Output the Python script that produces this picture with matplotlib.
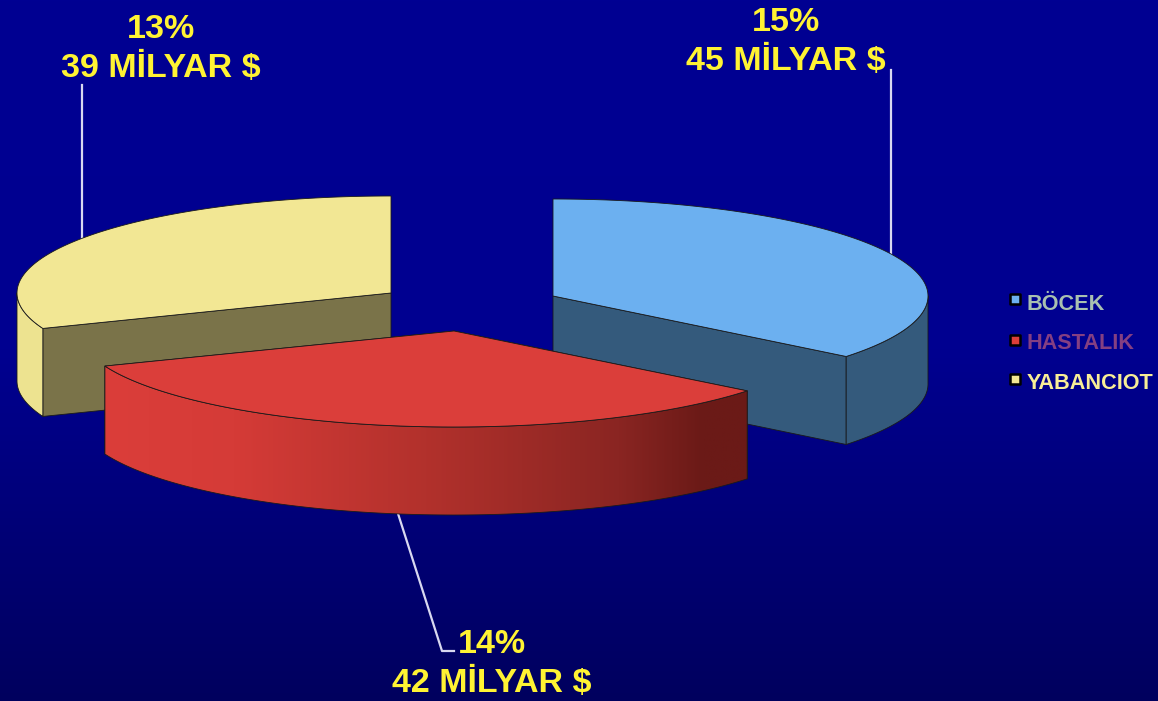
import numpy as np
import matplotlib
matplotlib.use('Agg')
import matplotlib.pyplot as plt
from matplotlib.colors import LinearSegmentedColormap
from matplotlib.patches import Polygon

categories = ['BÖCEK', 'HASTALIK', 'YABANCIOT']
billions = [45, 42, 39]
percents = [15, 14, 13]

# renkler
top_colors = ['#6CB0F0', '#DB3E3A', '#F2E794']
inner_colors = ['#345A7C', '#6B1A17', '#7A7349']
outer_colors = ['#345A7C', None, '#EDE390']
legend_text_colors = ['#A9C0B0', '#843F82', '#F8EE96']

# pikselde yerlesim
centers = [(553, 296), (454, 331), (391, 293)]
radii = [(375, 97), (375, 96), (374, 97)]
depth = 88

plt.rcParams['font.family'] = ['Liberation Sans', 'DejaVu Sans']

fig = plt.figure(figsize=(11.58, 7.01), dpi=100)
ax = fig.add_axes([0, 0, 1, 1])
ax.set_xlim(0, 1158)
ax.set_ylim(701, 0)
ax.axis('off')

# arka plan
bg = LinearSegmentedColormap.from_list('bg', ['#000092', '#000090', '#00005E'])
ax.imshow(np.linspace(0, 1, 256).reshape(-1, 1), cmap=bg, extent=[0, 1158, 701, 0],
          aspect='auto', zorder=0)

# dilim acilari (saat yonunde, tepeden)
edges = np.concatenate([[0], np.cumsum(billions)]) / sum(billions) * 2 * np.pi


def arc(i, a0, a1, dy=0):
    t = np.linspace(a0, a1, 150)
    cx, cy = centers[i]
    rx, ry = radii[i]
    return np.column_stack([cx + rx * np.sin(t), cy - ry * np.cos(t) + dy])


def face(pts, color, z):
    ax.add_patch(Polygon(pts, closed=True, facecolor=color, edgecolor='#1a1a1a',
                         linewidth=0.6, joinstyle='round', zorder=z))


def draw_slice(i, z):
    a0, a1 = edges[i], edges[i + 1]
    c = np.array(centers[i], dtype=float)
    d = np.array([0, depth])
    # ic duvarlar
    for a in (a0, a1):
        p = arc(i, a, a, 0)[0]
        if i == 0 and a == a0:
            continue
        if i == 2 and a == a1:
            continue
        face([c, p, p + d, c + d], inner_colors[i], z)
    # dis duvar: sadece one bakan kisim
    lo = max(a0, np.pi / 2)
    hi = min(a1, 1.5 * np.pi)
    top_arc = arc(i, lo, hi)
    low_arc = arc(i, lo, hi, depth)
    side = np.vstack([top_arc, low_arc[::-1]])
    if outer_colors[i] is None:
        # kirmizi dilimin yan yuzu degrade
        cmap = LinearSegmentedColormap.from_list('red_side', [
            (0, '#DB3E3A'), (0.2, '#D53B37'), (0.5, '#B2312C'),
            (0.8, '#8A2522'), (0.93, '#6B1A17'), (1, '#6B1A17')])
        x0, x1 = side[:, 0].min(), side[:, 0].max()
        y0, y1 = side[:, 1].min(), side[:, 1].max()
        im = ax.imshow(np.linspace(0, 1, 256).reshape(1, -1), cmap=cmap,
                       extent=[x0, x1, y1, y0], aspect='auto', zorder=z)
        clip = Polygon(side, closed=True, transform=ax.transData)
        im.set_clip_path(clip)
        ax.add_patch(Polygon(side, closed=True, fill=False, edgecolor='#1a1a1a',
                             linewidth=0.6, zorder=z))
    else:
        face(side, outer_colors[i], z)
    # ust yuzey
    face(np.vstack([[c], arc(i, a0, a1)]), top_colors[i], z + 0.5)


draw_slice(2, 1)
draw_slice(0, 2)
draw_slice(1, 3)

ax.set_xlim(0, 1158)
ax.set_ylim(701, 0)

# etiket cizgileri ve yazilar
mids = (edges[:-1] + edges[1:]) / 2
line_color = '#D8D8F0'
p0 = arc(0, mids[0], mids[0])[0]
ax.plot([p0[0], p0[0]], [p0[1], 70], color=line_color, lw=1.6, zorder=1.5)
p2 = arc(2, mids[2], mids[2])[0]
ax.plot([p2[0], p2[0]], [p2[1], 85], color=line_color, lw=1.6, zorder=0.5)
p1 = arc(1, mids[1], mids[1], depth)[0]
ax.plot([p1[0], 442, 454], [p1[1], 651, 651], color=line_color, lw=1.6, zorder=2.5)

label_pos = [(786, 42), (492, 664), (161, 49)]
for i, (x, y) in enumerate(label_pos):
    ax.text(x, y, f'{percents[i]}%\n{billions[i]} MİLYAR $', color='#FFF333', fontsize=24.5,
            fontweight='bold', ha='center', va='center', linespacing=1.33, zorder=6)

# lejant
legend_y = [304.5, 343.5, 383.5]
marker_y = [299, 340, 379]
for i, name in enumerate(categories):
    ax.scatter([1015], [marker_y[i]], marker='s', s=46, color=top_colors[i],
               edgecolor='black', linewidth=1.8, zorder=6)
    ax.text(1027, legend_y[i], name, color=legend_text_colors[i], fontsize=15.6,
            fontweight='bold', ha='left', va='center', zorder=6)

fig.savefig('out.png', dpi=100)
